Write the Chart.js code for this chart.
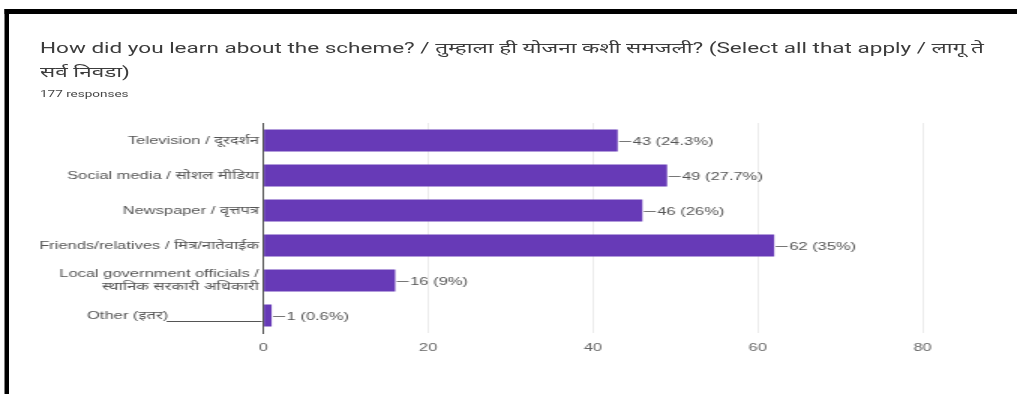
<!DOCTYPE html>
<html>
<head>
<meta charset="utf-8">
<script src="https://cdn.jsdelivr.net/npm/chart.js@4"></script>
<style>
  html, body { margin: 0; padding: 0; background: #fff; }
  body { width: 1017px; height: 394px; overflow: hidden; position: relative; }
  /* the whole card is laid out narrow, then widened 1.5x */
  #page {
    position: absolute; left: 0; top: 0; width: 678px; height: 394px;
    transform: scaleX(1.5); transform-origin: 0 0;
  }
  #frame {
    position: absolute; left: 3.4px; top: 9px; right: 0; bottom: 0;
    border-top: 5px solid #000; border-left: 3.4px solid #000;
  }
  #title {
    position: absolute; left: 26.7px; top: 36px; white-space: nowrap;
    font: 15px Roboto, "Noto Sans", sans-serif; color: #3c3c3c; line-height: 24px;
  }
  #count {
    position: absolute; left: 26.7px; top: 89px;
    font: 9px Roboto, "Noto Sans", sans-serif; color: #444;
  }
  #wrap { position: absolute; left: 6.7px; top: 110px; width: 671.3px; height: 284px; }
</style>
</head>
<body>
<div id="page">
  <div id="frame"></div>
  <div id="title">How did you learn about the scheme? / तुम्हाला ही योजना कशी समजली? (Select all that apply / लागू ते<br>सर्व निवडा)</div>
  <div id="count">177 responses</div>
  <div id="wrap"><canvas id="chart"></canvas></div>
</div>
<script>
// answer options and how many people ticked each
const categories = [
  'Television / दूरदर्शन',
  'Social media / सोशल मीडिया',
  'Newspaper / वृत्तपत्र',
  'Friends/relatives / मित्र/नातेवाईक',
  ['Local government officials /', 'स्थानिक सरकारी अधिकारी'],
  'Other (इतर)\u2003\u2003\u2003\u2003\u2003\u2002'
];
const counts = [43, 49, 46, 62, 16, 1];
const totalResponses = 177;
const xTicks = [0, 20, 40, 60, 80];

const purple = '#673ab7';
const smallFont = { family: 'Arial, "Liberation Sans", "Noto Sans", sans-serif', size: 11 };

const pct = (n) => {
  const p = Math.round(n / totalResponses * 1000) / 10;
  return (p % 1 === 0 ? p.toFixed(0) : p.toFixed(1)) + '%';
};

// blank line after "Other", running up to the axis
const otherLine = {
  id: 'otherLine',
  afterDraw(chart) {
    const y = chart.scales.y;
    const ctx = chart.ctx;
    ctx.save();
    ctx.font = smallFont.size + 'px ' + smallFont.family;
    const blank = ctx.measureText('\u2003\u2003\u2003\u2003\u2003\u2002').width;
    const py = Math.round(y.getPixelForValue(categories.length - 1)) + 5.5;
    ctx.strokeStyle = '#555';
    ctx.lineWidth = 1;
    ctx.beginPath();
    ctx.moveTo(y.right - 4 - blank, py);
    ctx.lineTo(y.right - 1, py);
    ctx.stroke();
    ctx.restore();
  }
};

// short leader line + "n (p%)" at the end of each bar
const valueLabels = {
  id: 'valueLabels',
  afterDatasetsDraw(chart) {
    const ctx = chart.ctx;
    const meta = chart.getDatasetMeta(0);
    ctx.save();
    ctx.font = smallFont.size + 'px ' + smallFont.family;
    ctx.fillStyle = '#555';
    ctx.strokeStyle = '#777';
    ctx.lineWidth = 1;
    ctx.textBaseline = 'middle';
    meta.data.forEach((bar, i) => {
      const x = bar.x, y = Math.round(bar.y) + 0.5;
      ctx.beginPath();
      ctx.moveTo(x + 1, y);
      ctx.lineTo(x + 9, y);
      ctx.stroke();
      ctx.fillText(counts[i] + ' (' + pct(counts[i]) + ')', x + 10, y);
    });
    ctx.restore();
  }
};

new Chart(document.getElementById('chart'), {
  type: 'bar',
  data: {
    labels: categories,
    datasets: [{
      data: counts,
      backgroundColor: purple,
      borderWidth: 0,
      categoryPercentage: 1,
      barPercentage: 0.63
    }]
  },
  options: {
    indexAxis: 'y',
    responsive: true,
    maintainAspectRatio: false,
    animation: false,
    layout: { padding: { top: 13, right: 63.3, bottom: 37, left: 0 } },
    plugins: { legend: { display: false }, tooltip: { enabled: false } },
    scales: {
      x: {
        min: 0, max: 80,
        ticks: {
          stepSize: 10,
          color: '#666',
          font: smallFont,
          padding: 8,
          callback: (v) => (xTicks.includes(v) ? v : null)
        },
        grid: {
          drawTicks: false,
          color: (c) => (c.tick && c.tick.value % 20 === 0 ? '#ececec' : '#f6f6f6')
        },
        border: { display: false },
        afterFit: (scale) => { scale.height = 24; }
      },
      y: {
        ticks: { color: '#555', font: smallFont, padding: 3, autoSkip: false },
        grid: { display: false, drawTicks: false },
        border: { display: true, color: '#555', width: 1 },
        afterFit: (scale) => { scale.width = 168.6; }
      }
    }
  },
  plugins: [otherLine, valueLabels]
});
</script>
</body>
</html>
